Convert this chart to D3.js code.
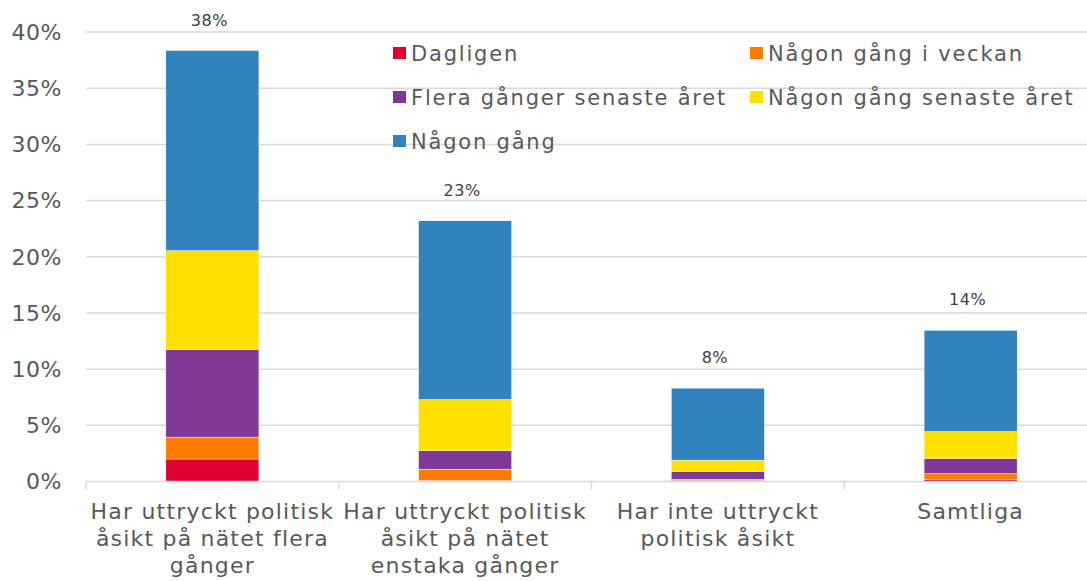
<!DOCTYPE html>
<html>
<head>
<meta charset="utf-8">
<script src="https://d3js.org/d3.v7.min.js"></script>
<style>
  body { margin: 0; background: #fff; }
  text { font-family: "DejaVu Sans", "Noto Sans", sans-serif; fill: #595959; }
</style>
</head>
<body>
<div id="chart"></div>
<script>
// categories, each label split into its lines
var categories = ["a", "b", "c", "d"];
var categoryLines = [
  ["Har uttryckt politisk", "åsikt på nätet flera", "gånger"],
  ["Har uttryckt politisk", "åsikt på nätet", "enstaka gånger"],
  ["Har inte uttryckt", "politisk åsikt"],
  ["Samtliga"]
];
var seriesNames = ["Dagligen", "Någon gång i veckan", "Flera gånger senaste året", "Någon gång senaste året", "Någon gång"];
var seriesColors = ["#e0002f", "#ff7b00", "#7f3896", "#ffe000", "#3183be"];
// values in percent, one array per series
var dagligen      = [2.0, 0.1, 0.1, 0.15];
var veckan        = [1.95, 1.0, 0.1, 0.55];
var fleraAret     = [7.8, 1.65, 0.7, 1.35];
var nagonAret     = [8.8, 4.55, 1.0, 2.4];
var nagonGang     = [17.8, 15.9, 6.4, 9.0];
var totalLabels   = ["38%", "23%", "8%", "14%"];
var yTicks = [0, 5, 10, 15, 20, 25, 30, 35, 40];

var width = 1087, height = 581;
var svg = d3.select("#chart").append("svg")
  .attr("width", width).attr("height", height);

var seriesValues = [dagligen, veckan, fleraAret, nagonAret, nagonGang];
var rows = categories.map(function(c, i) {
  var r = { cat: c };
  seriesNames.forEach(function(s, j) { r[s] = seriesValues[j][i]; });
  return r;
});

var x = d3.scaleBand().domain(categories).range([86, 1097])
  .paddingInner(0.632).paddingOuter(0.316);
var y = d3.scaleLinear().domain([0, 40]).range([481.5, 32]);

// gridlines
svg.append("g").selectAll("line")
  .data(yTicks.filter(function(d) { return d > 0; }))
  .enter().append("line")
  .attr("x1", 86).attr("x2", width)
  .attr("y1", function(d) { return y(d); })
  .attr("y2", function(d) { return y(d); })
  .attr("stroke", "#d9d9d9").attr("stroke-width", 1.5);

// y labels
svg.append("g").selectAll("text")
  .data(yTicks).enter().append("text")
  .attr("x", 62).attr("y", function(d) { return y(d); })
  .attr("dy", "0.36em")
  .attr("text-anchor", "end")
  .attr("font-size", 22)
  .attr("letter-spacing", 0.5)
  .text(function(d) { return d + "%"; });

// stacked bars
var stack = d3.stack().keys(seriesNames);
var layers = stack(rows);
svg.append("g").selectAll("g")
  .data(layers).enter().append("g")
  .attr("fill", function(d, i) { return seriesColors[i]; })
  .selectAll("rect")
  .data(function(d) { return d; })
  .enter().append("rect")
  .attr("x", function(d) { return x(d.data.cat); })
  .attr("width", x.bandwidth())
  .attr("y", function(d) { return y(d[1]); })
  .attr("height", function(d) { return y(d[0]) - y(d[1]); })
  .attr("stroke", "#ffffff").attr("stroke-width", 0.4);

// x axis line and category ticks
svg.append("line")
  .attr("x1", 86).attr("x2", width)
  .attr("y1", y(0)).attr("y2", y(0))
  .attr("stroke", "#d9d9d9").attr("stroke-width", 1.5);
svg.append("g").selectAll("line")
  .data(d3.range(categories.length)).enter().append("line")
  .attr("x1", function(i) { return 86 + i * x.step(); })
  .attr("x2", function(i) { return 86 + i * x.step(); })
  .attr("y1", y(0)).attr("y2", y(0) + 8)
  .attr("stroke", "#d9d9d9").attr("stroke-width", 1.5);

// category labels
var catG = svg.append("g").selectAll("text")
  .data(categories).enter().append("text")
  .attr("text-anchor", "middle")
  .attr("font-size", 22)
  .attr("letter-spacing", 1.2);
catG.each(function(c, i) {
  d3.select(this).selectAll("tspan")
    .data(categoryLines[i]).enter().append("tspan")
    .attr("x", x(c) + x.bandwidth() / 2)
    .attr("y", function(l, k) { return 519 + k * 27; })
    .text(function(l) { return l; });
});

// total labels
svg.append("g").selectAll("text")
  .data(rows).enter().append("text")
  .attr("x", function(d) { return x(d.cat) + x.bandwidth() / 2 - 3; })
  .attr("y", function(d, i) {
    var t = d3.sum(seriesNames, function(s) { return d[s]; });
    return y(t) - 25;
  })
  .attr("text-anchor", "middle")
  .attr("font-size", 16)
  .attr("letter-spacing", 0.5)
  .style("fill", "#404040")
  .text(function(d, i) { return totalLabels[i]; });

// legend
var legendPos = [[393, 53], [750, 53], [393, 97], [750, 97], [393, 141]];
var leg = svg.append("g").selectAll("g")
  .data(seriesNames).enter().append("g")
  .attr("transform", function(d, i) { return "translate(" + legendPos[i][0] + "," + legendPos[i][1] + ")"; });
leg.append("rect")
  .attr("x", 0).attr("y", -6).attr("width", 13).attr("height", 12)
  .attr("fill", function(d, i) { return seriesColors[i]; });
leg.append("text")
  .attr("x", 18).attr("dy", "0.36em")
  .attr("font-size", 21)
  .attr("letter-spacing", 1.8)
  .text(function(d) { return d; });
</script>
</body>
</html>
